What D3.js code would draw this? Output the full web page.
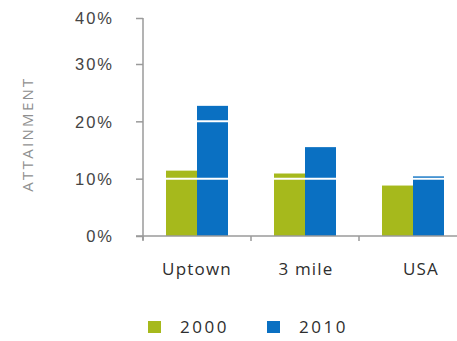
<!DOCTYPE html>
<html>
<head>
<meta charset="utf-8">
<script src="https://cdn.jsdelivr.net/npm/d3@7"></script>
<style>
  html, body { margin: 0; padding: 0; background: #fff; }
  svg { display: block; font-family: "Open Sans", "DejaVu Sans", sans-serif; }
</style>
</head>
<body>
<svg id="chart" width="457" height="341"></svg>
<script>
// Educational attainment by area, 2000 vs 2010
const categories = ["Uptown", "3 mile", "USA"];
const seriesNames = ["2000", "2010"];
const values2000 = [0.114, 0.109, 0.088];
const values2010 = [0.227, 0.155, 0.104];
const yTicks = [0, 0.1, 0.2, 0.3, 0.4];
const colors = ["#a6b91c", "#0a70c2"];

const svg = d3.select("#chart");

const x = d3.scaleBand().domain(categories).range([143, 467]).paddingInner(0).paddingOuter(0);
// value axis: the top interval is drawn shorter than the others
const y = d3.scaleLinear().domain([0, 0.3, 0.4]).range([236, 64, 18]);
const sub = d3.scaleBand().domain(seriesNames).range([0, 62]);
const seriesValues = [values2000, values2010];

const groups = svg.append("g").selectAll("g")
  .data(categories)
  .join("g")
  .attr("transform", d => `translate(${x(d) + x.bandwidth() / 2 - 31},0)`);

groups.selectAll("rect")
  .data((c, i) => seriesNames.map((s, j) => ({ s, v: seriesValues[j][i], j })))
  .join("rect")
  .attr("x", d => sub(d.s))
  .attr("width", sub.bandwidth())
  .attr("y", d => y(d.v))
  .attr("height", d => y(0) - y(d.v))
  .attr("fill", d => colors[d.j]);

// white gridlines over the bars
svg.append("g").selectAll("line")
  .data(yTicks.filter(t => t > 0))
  .join("line")
  .attr("x1", 144).attr("x2", 457)
  .attr("y1", d => y(d)).attr("y2", d => y(d))
  .attr("stroke", "#fff").attr("stroke-width", 2);

// y axis
const yAxis = d3.axisLeft(y).tickValues(yTicks).tickFormat(d3.format(".0%")).tickSize(7).tickPadding(22);
const gy = svg.append("g").attr("transform", "translate(143,0)").call(yAxis);
gy.select(".domain").attr("d", `M0,${y(0.4)}V${y(0) + 4}`).attr("stroke", "#9a9a9a").attr("stroke-width", 1.5);
gy.selectAll(".tick line").attr("stroke", "#9a9a9a").attr("stroke-width", 1.5);
gy.selectAll(".tick text").attr("fill", "#444").attr("dy", "0.36em")
  .style("font-size", "16.5px").style("letter-spacing", "2px");

// x axis
const gx = svg.append("g").attr("transform", `translate(0,${y(0)})`);
gx.append("line").attr("x1", 136).attr("x2", 457).attr("y1", 0).attr("y2", 0)
  .attr("stroke", "#9a9a9a").attr("stroke-width", 1.5);
gx.selectAll("line.tk")
  .data(categories)
  .join("line").attr("class", "tk")
  .attr("x1", d => x(d)).attr("x2", d => x(d))
  .attr("y1", 0).attr("y2", 5)
  .attr("stroke", "#9a9a9a").attr("stroke-width", 1.5);
gx.selectAll("text")
  .data(categories)
  .join("text")
  .attr("x", (d, i) => x(d) + x.bandwidth() / 2 + [0, 1, 8][i])
  .attr("y", 39)
  .attr("text-anchor", "middle")
  .attr("fill", "#2e2e2e")
  .style("font-size", "17px")
  .style("letter-spacing", "1.2px")
  .text(d => d);

// axis title
svg.append("text")
  .attr("transform", "translate(33,134) rotate(-90)")
  .attr("text-anchor", "middle")
  .attr("fill", "#8f8f8f")
  .style("font-size", "15px")
  .style("letter-spacing", "2.3px")
  .text("ATTAINMENT");

// legend
const legend = svg.append("g").selectAll("g")
  .data(seriesNames)
  .join("g")
  .attr("transform", (d, i) => `translate(${148 + i * 119},321)`);
legend.append("rect").attr("width", 13).attr("height", 12).attr("fill", (d, i) => colors[i]);
legend.append("text").attr("x", 32).attr("y", 12)
  .attr("fill", "#2e2e2e").style("font-size", "17px").style("letter-spacing", "2.5px").text(d => d);
</script>
</body>
</html>
